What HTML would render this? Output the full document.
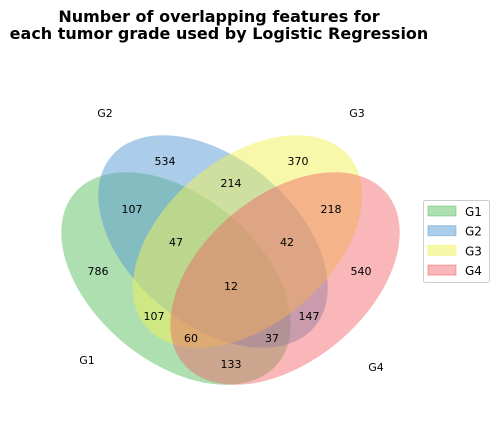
<!DOCTYPE html>
<html><head><meta charset="utf-8"><style>
html,body{margin:0;padding:0;background:#fff;}
svg{display:block;font-family:"DejaVu Sans","Liberation Sans",sans-serif;}
</style></head><body>
<svg id="chart" width="499" height="436" viewBox="0 0 499 436">
<text x="219" y="22" text-anchor="middle" font-size="16" font-weight="bold">Number of overlapping features for</text>
<text x="219" y="39" text-anchor="middle" font-size="16" font-weight="bold">each tumor grade used by Logistic Regression</text>
<g id="sets"></g>
<g id="counts"></g>
<g>
<rect x="423.5" y="200.5" width="66" height="82" rx="2" fill="#fff" fill-opacity="0.8" stroke="#ccc"/>
<g id="legend-entries"></g>
</g>
</svg>
<script>
const setNames = ["G1","G2","G3","G4"];
const regionKeys = ["1000","0100","0010","0001","1100","0110","0011","1010","0101","1001","1110","1101","1011","0111","1111"];
const regionValues = [786,534,370,540,107,214,218,107,147,133,47,60,37,42,12];

// layout (not data)
const NS="http://www.w3.org/2000/svg";
const ellipses=[{cx:176,cy:278.5,rot:40,fill:"rgb(92,192,98)",op:0.5},{cx:213,cy:241.5,rot:40,fill:"rgb(90,155,212)",op:0.5},{cx:247.5,cy:241.5,rot:-40,fill:"rgb(241,241,88)",op:0.5},{cx:285,cy:278.5,rot:-40,fill:"rgb(241,90,96)",op:0.44}];
const setLabelPos=[[87,364],[105,117],[357,117],[376,371]];
const regionPos={"1000":[98,275],"0100":[165,165],"0010":[298,165],"0001":[361,275],"1100":[132,213],"0110":[231,187],"0011":[331,213],"1010":[154,320],"0101":[309,320],"1001":[231,368],"1110":[176,246],"1101":[191,342],"1011":[272,342],"0111":[287,246],"1111":[231,290]};
const sets=document.getElementById('sets');
setNames.forEach((n,i)=>{
 const e=ellipses[i];
 const el=document.createElementNS(NS,'ellipse');
 
 
 el.setAttribute('cx',e.cx);el.setAttribute('cy',e.cy);el.setAttribute('rx',132.6);el.setAttribute('ry',82.9);
 el.setAttribute('transform',`rotate(${e.rot} ${e.cx} ${e.cy})`);
 el.setAttribute('fill',e.fill);el.setAttribute('fill-opacity',e.op);
 sets.appendChild(el);
 const t=document.createElementNS(NS,'text');
 
 
 t.setAttribute('x',setLabelPos[i][0]);t.setAttribute('y',setLabelPos[i][1]);
 t.setAttribute('text-anchor','middle');t.setAttribute('font-size','11');t.textContent=n;
 sets.appendChild(t);
 const lg=document.getElementById('legend-entries');
 const r=document.createElementNS(NS,'rect');
 
 
 r.setAttribute('x',428);r.setAttribute('y',206+i*19.7);r.setAttribute('width',28);r.setAttribute('height',10);
 r.setAttribute('fill',e.fill);r.setAttribute('fill-opacity',e.op);r.setAttribute('stroke',e.fill);r.setAttribute('stroke-opacity',0.5);
 lg.appendChild(r);
 const lt=document.createElementNS(NS,'text');
 
 
 lt.setAttribute('x',465);lt.setAttribute('y',216+i*19.7);lt.setAttribute('font-size','12');lt.textContent=n;
 lg.appendChild(lt);
});
const counts=document.getElementById('counts');
regionKeys.forEach((k,i)=>{
 const p=regionPos[k];
 const t=document.createElementNS(NS,'text');
 
 
 t.setAttribute('x',p[0]);t.setAttribute('y',p[1]);
 t.setAttribute('text-anchor','middle');t.setAttribute('font-size','11');
 t.textContent=regionValues[i];
 counts.appendChild(t);
});
</script>
</body></html>
